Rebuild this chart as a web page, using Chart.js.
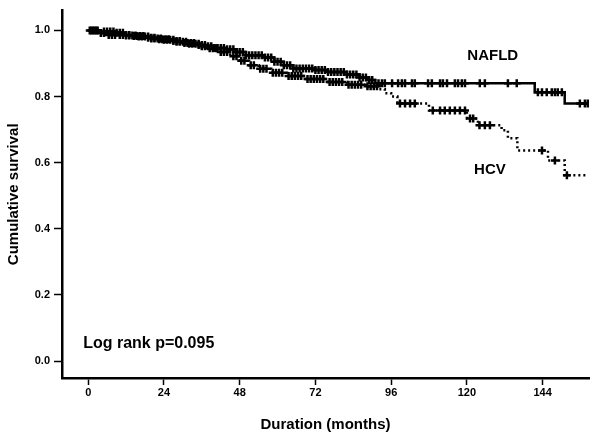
<!DOCTYPE html>
<html>
<head>
<meta charset="utf-8">
<script src="https://cdn.jsdelivr.net/npm/chart.js@4.4.1/dist/chart.umd.min.js"></script>
<style>
  html, body { margin: 0; padding: 0; background: #fff; }
  #wrap { width: 600px; height: 441px; }
</style>
</head>
<body>
<div id="wrap"><canvas id="kmChart" width="600" height="441"></canvas></div>
<script>
// Kaplan-Meier steps: time (months) and survival after the event at that time
var nafldTimes = [0, 4, 9, 12, 16, 20, 24, 28, 32, 36, 40, 44, 47, 50, 56, 59, 62, 65, 72, 76, 82, 86, 89, 91, 141.5, 151, 159];
var nafldSurv  = [1.0, 0.997, 0.993, 0.985, 0.982, 0.976, 0.972, 0.966, 0.96, 0.952, 0.947, 0.943, 0.935, 0.925, 0.918, 0.905, 0.895, 0.885, 0.88, 0.874, 0.867, 0.858, 0.85, 0.84, 0.813, 0.779, 0.779];

var hcvTimes = [0, 3, 6, 14, 18, 22, 26, 30, 34, 38, 42, 45, 48, 51, 54, 58, 63, 69, 76, 82, 88, 92, 94, 96, 98, 108, 120, 123.5, 131, 133, 136, 145.7, 151, 158];
var hcvSurv  = [1.0, 0.992, 0.986, 0.983, 0.978, 0.973, 0.968, 0.962, 0.956, 0.946, 0.935, 0.922, 0.908, 0.895, 0.884, 0.872, 0.862, 0.853, 0.844, 0.836, 0.831, 0.822, 0.81, 0.8, 0.779, 0.758, 0.734, 0.713, 0.698, 0.674, 0.637, 0.607, 0.562, 0.562];

// censored cases (months)
var nafldCensored = [1, 2, 3, 5, 6, 7, 8, 9, 10, 11, 12, 13, 14, 15, 16, 17, 18, 19, 20, 21, 22, 23, 24, 25, 26, 27, 28, 29, 30, 31, 32, 33, 34, 35, 36, 37, 38, 39, 40, 41, 42, 43, 44, 45, 46, 47, 48, 49, 50, 51, 52, 53, 54, 55, 56, 57, 58, 59, 60, 61, 62, 63, 64, 65, 66, 67, 68, 69, 70, 71, 72, 73, 74, 75, 76, 77, 78, 79, 80, 81, 82, 83, 84, 85, 86, 87, 88, 89, 90,
  92, 93.1, 94, 96.3, 98.2, 99.4, 100.4, 102.6, 103.5, 107.7, 108.9, 111.5, 112.4, 113.7, 116.2, 117.2, 118.4, 119.4, 124.1, 125.7, 133, 135.8, 142.5, 143.8, 145.3, 146.9, 147.9, 148.8, 150.1, 155.8, 157.4, 158.3];
var hcvCensored = [0.5, 1.5, 2.5, 4, 5, 6.5, 7.5, 8.5, 10, 11, 12, 13, 14.5, 15.5, 16.5, 17.5, 19, 20, 21, 22.5, 23.5, 24.5, 25.5, 27, 28, 29, 30.5, 31.5, 32.5, 33.5, 35, 36, 37, 38.5, 39.5, 40.5, 42, 43, 44, 46, 47, 48.5, 49.5, 51.5, 52.5, 54.5, 55.5, 56.5, 58.5, 59.5, 60.5, 61.5, 63.5, 64.5, 65.5, 66.5, 67.5, 69.5, 70.5, 71.5, 72.5, 73.5, 74.5, 76.5, 77.5, 78.5, 79.5, 80.5, 82.5, 83.5, 84.5, 85.5, 86.5, 88.5, 89.5, 90.5, 91.5,
  98.8, 100.4, 102, 103.5, 109.2, 111.5, 113, 114.6, 116.2, 117.8, 119.4, 121, 122, 124, 125.7, 127.3, 143.8, 147.9, 151.7];

// text labels placed in data coordinates
var labelTexts = ["NAFLD", "HCV", "Log rank p=0.095"];
var labelX = [128.2, 127.3, -1.6];
var labelY = [0.924, 0.577, 0.054];
var labelAlign = ["center", "center", "left"];

var FONT = "'Liberation Sans', Arial, sans-serif";

function survivalAt(times, surv, t) {
    var s = surv[0];
    for (var i = 0; i < times.length; i++) {
        if (times[i] <= t) s = surv[i];
    }
    return s;
}

function toPoints(xs, ys) {
    return xs.map(function (x, i) { return { x: x, y: ys[i] }; });
}

function censorPoints(times, surv, cens) {
    return cens.map(function (t) { return { x: t, y: survivalAt(times, surv, t) }; });
}

var textPlugin = {
    id: 'kmText',
    afterDatasetsDraw: function (chart) {
        var ctx = chart.ctx;
        var xs = chart.scales.x, ys = chart.scales.y;
        ctx.save();
        ctx.fillStyle = '#000';
        ctx.textBaseline = 'middle';
        labelTexts.forEach(function (txt, i) {
            ctx.font = (i === 2 ? 'bold 16px ' : 'bold 15px ') + FONT;
            ctx.textAlign = labelAlign[i];
            ctx.fillText(txt, xs.getPixelForValue(labelX[i]), ys.getPixelForValue(labelY[i]));
        });
        ctx.restore();
    }
};

var censorStyle = {
    type: 'scatter',
    showLine: false,
    pointStyle: 'cross',
    pointRadius: 4,
    pointBorderWidth: 2.5,
    pointBorderColor: '#000',
    pointBackgroundColor: '#000'
};

var ctx = document.getElementById('kmChart').getContext('2d');
var kmChart = new Chart(ctx, {
    type: 'line',
    data: {
        datasets: [
            {
                label: 'NAFLD',
                data: toPoints(nafldTimes, nafldSurv),
                stepped: true,
                borderColor: '#000',
                borderWidth: 2.5,
                pointRadius: 0,
                fill: false
            },
            {
                label: 'HCV',
                data: toPoints(hcvTimes, hcvSurv),
                stepped: true,
                borderColor: '#000',
                borderWidth: 2.5,
                borderDash: [2, 3],
                pointRadius: 0,
                fill: false
            },
            Object.assign({ label: 'NAFLD censored', data: censorPoints(nafldTimes, nafldSurv, nafldCensored) }, censorStyle),
            Object.assign({ label: 'HCV censored', data: censorPoints(hcvTimes, hcvSurv, hcvCensored) }, censorStyle)
        ]
    },
    options: {
        responsive: false,
        animation: false,
        layout: { padding: { top: 10, right: 11, left: 0, bottom: 0 } },
        plugins: {
            legend: { display: false },
            tooltip: { enabled: false }
        },
        scales: {
            x: {
                type: 'linear',
                min: -8.3,
                max: 158.7,
                grid: { drawOnChartArea: false, tickLength: 7, tickColor: '#000', tickWidth: 1.5 },
                border: { color: '#000', width: 2.5 },
                ticks: {
                    stepSize: 24,
                    includeBounds: false,
                    color: '#000',
                    padding: 1,
                    font: { family: FONT, size: 11, weight: 'bold' }
                },
                title: {
                    display: true,
                    text: 'Duration (months)',
                    color: '#000',
                    padding: { top: 0, bottom: 7 },
                    font: { family: FONT, size: 15, weight: 'bold' }
                },
                afterFit: function (scale) { scale.height = 63; }
            },
            y: {
                type: 'linear',
                min: -0.051,
                max: 1.06,
                grid: { drawOnChartArea: false, tickLength: 8, tickColor: '#000', tickWidth: 1.5 },
                border: { color: '#000', width: 2.5 },
                ticks: {
                    stepSize: 0.2,
                    includeBounds: false,
                    color: '#000',
                    padding: 4,
                    font: { family: FONT, size: 11, weight: 'bold' },
                    callback: function (v) { return v.toFixed(1); }
                },
                title: {
                    display: true,
                    text: 'Cumulative survival',
                    color: '#000',
                    padding: { top: 5, bottom: 0 },
                    font: { family: FONT, size: 15, weight: 'bold' }
                },
                afterFit: function (scale) { scale.width = 62; }
            }
        }
    },
    plugins: [textPlugin]
});
</script>
</body>
</html>
